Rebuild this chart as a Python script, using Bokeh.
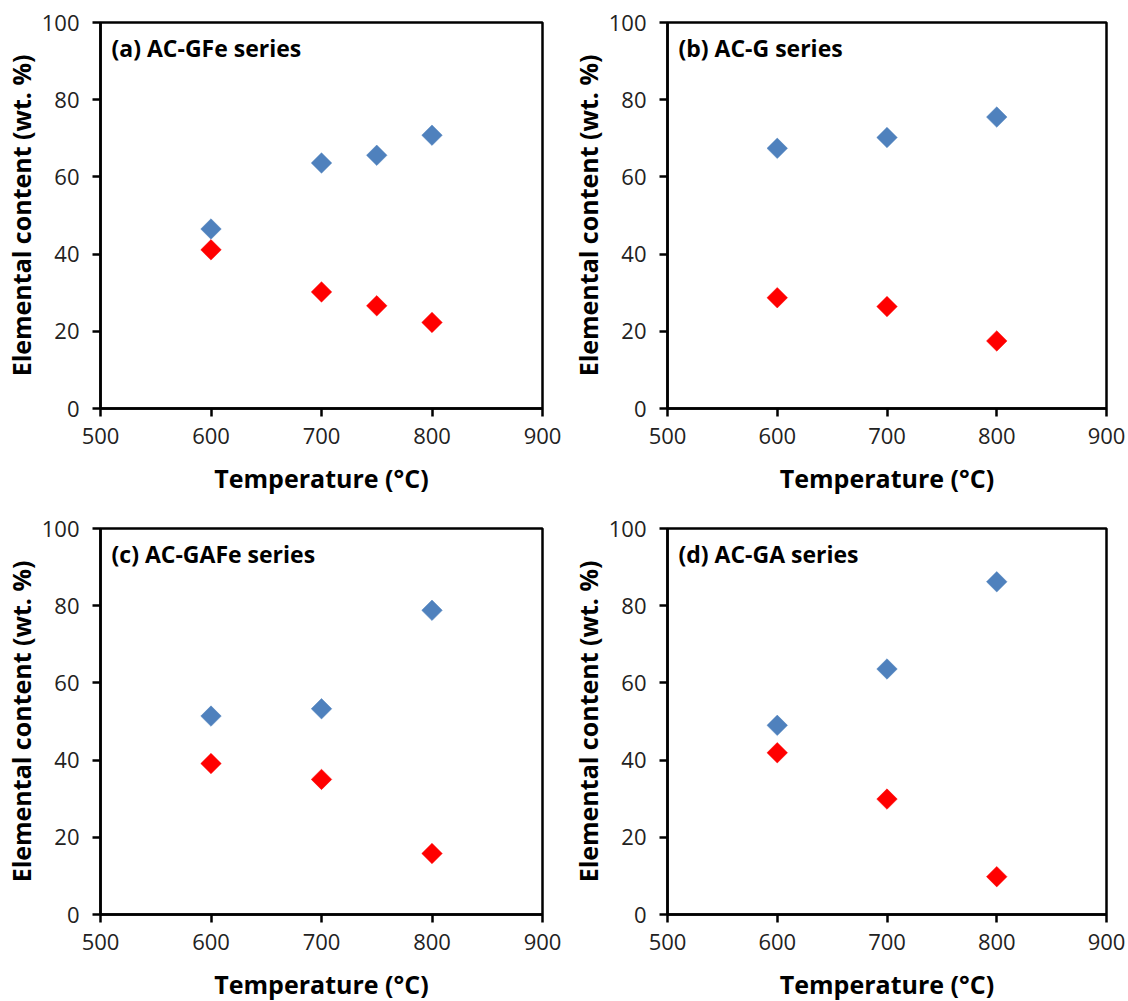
import math
from bokeh.plotting import figure
from bokeh.layouts import column, row
from bokeh.models import Label, FixedTicker
from bokeh.embed import file_html
from bokeh.resources import INLINE

# ---- data ----
titles = ["(a) AC-GFe series", "(b) AC-G series", "(c) AC-GAFe series", "(d) AC-GA series"]

temp_a = [600, 700, 750, 800]
blue_a = [46.5, 63.6, 65.6, 70.8]
red_a = [41.1, 30.2, 26.6, 22.3]

temp_b = [600, 700, 800]
blue_b = [67.4, 70.2, 75.5]
red_b = [28.7, 26.4, 17.5]

temp_c = [600, 700, 800]
blue_c = [51.4, 53.3, 78.8]
red_c = [39.1, 35.0, 15.8]

temp_d = [600, 700, 800]
blue_d = [49.0, 63.6, 86.2]
red_d = [41.9, 29.9, 9.8]

x_ticks = [500, 600, 700, 800, 900]
y_ticks = [0, 20, 40, 60, 80, 100]

x_label = "Temperature (\u00b0C)"
y_label = "Elemental content (wt. %)"

BLUE = "#4F81BD"
RED = "#FF0000"
FONT = "Open Sans"


def make_panel(title, temps, blue, red, left, top, bottom, fw, fh):
    p = figure(frame_width=fw, frame_height=fh, x_range=(500, 900), y_range=(0, 100),
               output_backend="svg", toolbar_location=None,
               min_border_left=left, min_border_right=23,
               min_border_top=top, min_border_bottom=bottom)
    p.grid.visible = False
    p.outline_line_color = "black"
    p.outline_line_width = 2.5
    p.background_fill_color = "white"
    p.border_fill_color = "white"
    for ax in (p.xaxis[0], p.yaxis[0]):
        ax.axis_line_width = 2.5
        ax.axis_line_color = "black"
        ax.major_tick_line_width = 2.5
        ax.major_tick_line_color = "black"
        ax.major_tick_out = 8
        ax.major_tick_in = 0
        ax.minor_tick_line_color = None
        ax.major_label_text_font = FONT
        ax.major_label_text_font_size = "22px"
        ax.major_label_text_color = "#222222"
        ax.axis_label_text_font = FONT
        ax.axis_label_text_font_style = "bold"
        ax.axis_label_text_font_size = "25px"
        ax.axis_label_text_color = "black"
    p.xaxis[0].ticker = FixedTicker(ticks=x_ticks)
    p.yaxis[0].ticker = FixedTicker(ticks=y_ticks)
    p.xaxis[0].axis_label = x_label
    p.yaxis[0].axis_label = y_label
    p.xaxis[0].major_label_standoff = 11
    p.yaxis[0].major_label_standoff = 13
    p.xaxis[0].axis_label_standoff = 14
    p.yaxis[0].axis_label_standoff = 1

    p.scatter(temps, blue, marker="square", size=14.5, angle=math.pi / 4,
              fill_color=BLUE, line_color=BLUE, line_width=0.5)
    p.scatter(temps, red, marker="square", size=14.5, angle=math.pi / 4,
              fill_color=RED, line_color=RED, line_width=0.5)

    p.add_layout(Label(x=510, y=93.5, text=title, text_font=FONT,
                       text_font_style="bold", text_font_size="23px",
                       text_baseline="middle", text_align="left", text_color="black"))
    return p


pa = make_panel(titles[0], temp_a, blue_a, red_a, 99, 22, 92, 442, 386)
pb = make_panel(titles[1], temp_b, blue_b, red_b, 102, 22, 92, 439, 386)
pc = make_panel(titles[2], temp_c, blue_c, red_c, 99, 28, 87, 442, 386)
pd = make_panel(titles[3], temp_d, blue_d, red_d, 102, 28, 87, 439, 386)

layout = column(row(pa, pb, spacing=0), row(pc, pd, spacing=0), spacing=0)

open("out.html", "w").write(file_html(layout, INLINE))
